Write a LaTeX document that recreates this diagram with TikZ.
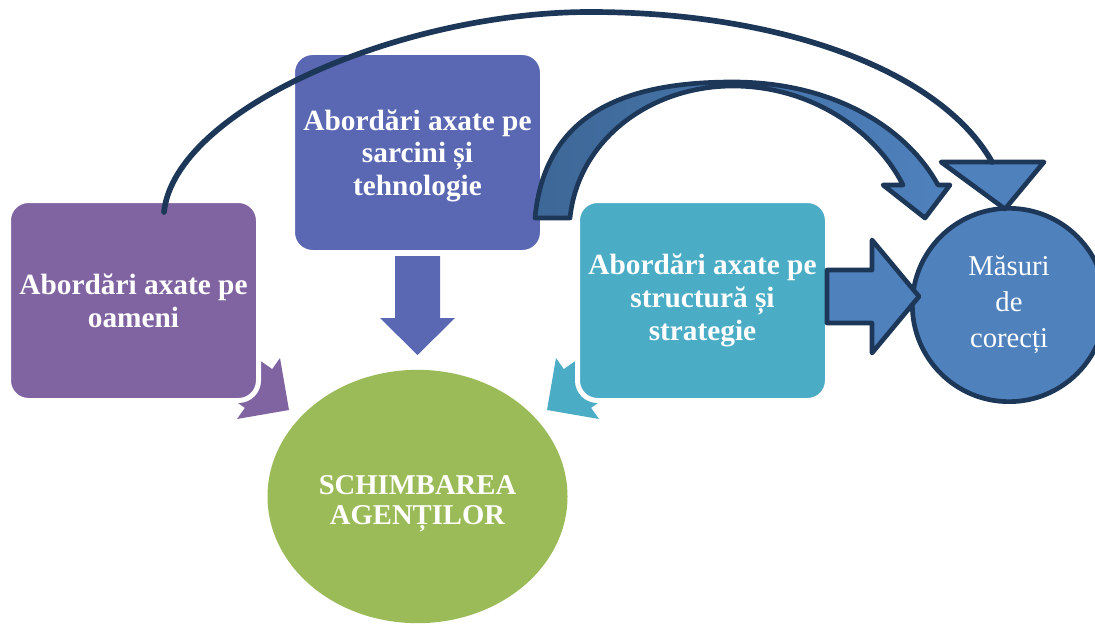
\documentclass[tikz,border=0pt]{standalone}
\usepackage{fontspec}
\setmainfont{Liberation Serif}
\usepackage{xcolor}
\usepackage{tikz}
\usetikzlibrary{calc,shapes.geometric}
\definecolor{oameni}{HTML}{8064A2}
\definecolor{sarcini}{HTML}{5A68B4}
\definecolor{structura}{HTML}{4BACC6}
\definecolor{agenti}{HTML}{9BBB59}
\definecolor{corectie}{HTML}{4F81BD}
\definecolor{arcdark}{HTML}{3D6796}
\definecolor{contur}{HTML}{1C3757}
\tikzset{
  abordare/.style={rectangle, rounded corners=15pt, draw=white, line width=3.75pt,
    minimum width=187.5pt, minimum height=150pt, align=center, text=white,
    font=\fontsize{22}{24.5}\selectfont\bfseries},
  blockarrow/.style={fill=corectie, draw=contur, line width=3.5pt, line join=round},
}

\begin{document}
\begin{tikzpicture}[x=0.75pt,y=-0.75pt]
        \useasboundingbox (0,0) rectangle (1095,624);
        \clip (0,0) rectangle (1095,624);
        % arrows behind the side boxes
        \fill [oameni] (187.6,367.6) -- (214.9,328.8) -- (272.2,369.1) -- (280,358) -- (289,410) -- (237,419) -- (244.9,407.9) -- cycle;
        \fill [structura] (648.4,367.6) -- (621.1,328.8) -- (563.8,369.1) -- (556,358) -- (547,410) -- (599,419) -- (591.1,407.9) -- cycle;
        \node [abordare, fill=oameni] (oameni) at (133.5,300.5) {Abordări axate pe\\oameni};
        \node [abordare, fill=sarcini, text depth=-3pt] (tech) at (417.5,152.5) {Abordări axate pe\\sarcini și\\tehnologie};
        \node [abordare, fill=structura] (struct) at (702.5,300.5) {Abordări axate pe\\structură și\\strategie};
        \node [ellipse, fill=agenti, minimum width=225pt, minimum height=190pt, inner sep=0pt] (agenti) at (417.5,496.5) {};
        \node [align=center, text=white, font=\fontsize{21.5}{23}\selectfont\bfseries] (agentitext) at ($(agenti)+(0,7)$) {SCHIMBAREA\\AGENȚILOR};
        \node [circle, fill=corectie, draw=contur, line width=3.5pt, minimum size=145pt, align=center, text=white,
          font=\fontsize{21.5}{27}\selectfont] (corectii) at (1009,305) {Măsuri\\de\\corecți};
        % down arrow
        \fill [sarcini] ($(tech.south)+(-22.5,1)$) -- ($(tech.south)+(22.5,1)$) -- ($(tech.south)+(22.5,63)$) -- ($(tech.south)+(37.5,63)$)
          -- ($(tech.south)+(0,100)$) -- ($(tech.south)+(-37.5,63)$) -- ($(tech.south)+(-22.5,63)$) -- cycle;
        % right arrow
        \coordinate (r) at ($(struct.east)+(-3,-4)$);
        \draw [blockarrow] ($(r)+(0,-26.5)$) -- ($(r)+(45,-26.5)$) -- ($(r)+(45,-56.5)$) -- ($(r)+(92,0)$)
          -- ($(r)+(45,56.5)$) -- ($(r)+(45,26.5)$) -- ($(r)+(0,26.5)$) -- cycle;
        % curved arrow
        \draw [blockarrow, left color=arcdark, right color=corectie] (535,218) .. controls (545,110) and (630,82) .. (733,82)
          .. controls (830,82) and (905,125) .. (938,185) -- (950,185) -- (925,218) -- (883,185) -- (903,185)
          .. controls (875,130) and (810,86) .. (733,86) .. controls (650,86) and (578,140) .. (570,218) -- cycle;
        % triangle
        \coordinate (varf) at (992,162);
        \draw [blockarrow] (941,162) -- (1044,162) -- ($(corectii.north)+(-4,3)$) -- cycle;
        % long line
        \coordinate (start) at ($(oameni.north)+(30.5,14)$);
        \draw [contur, line width=4.25pt, line cap=round] (start) .. controls (175,110) and (400,12) .. (590,12)
          .. controls (780,12) and (940,70) .. (varf);
\end{tikzpicture}
\end{document}
